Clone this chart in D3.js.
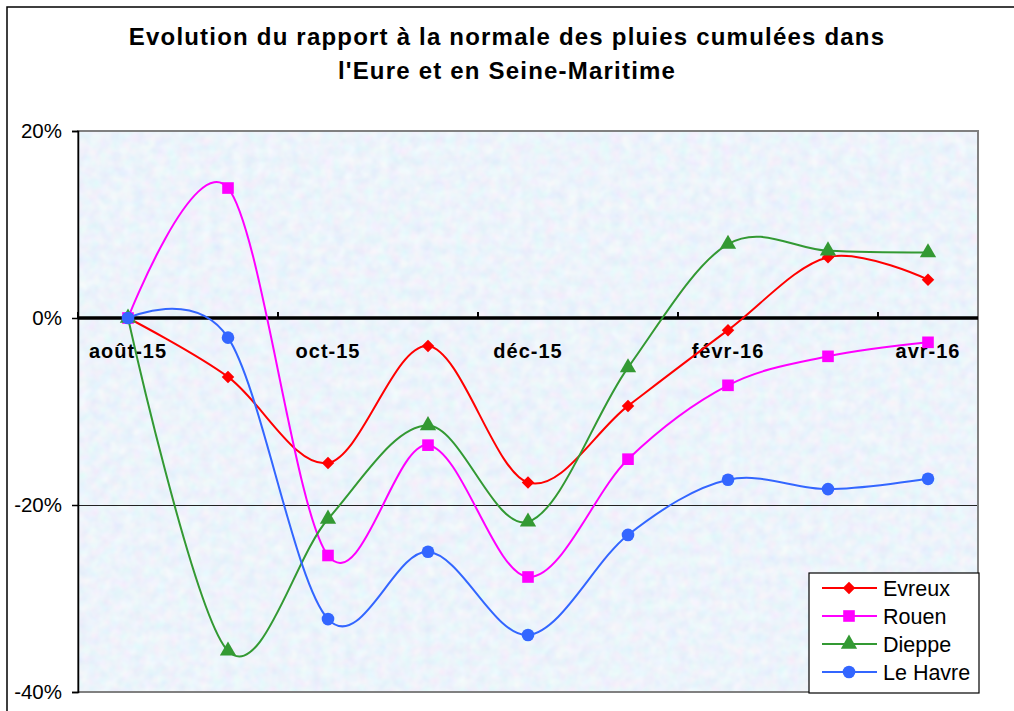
<!DOCTYPE html>
<html><head><meta charset="utf-8">
<script src="https://cdn.jsdelivr.net/npm/d3@7/dist/d3.min.js"></script>
<style>
body{margin:0;background:#fff;}
svg{display:block;font-family:"Liberation Sans",Arial,sans-serif;}
</style></head>
<body>
<svg id="c" width="1014" height="711"></svg>
<script>
const categories = ["août-15","sept-15","oct-15","nov-15","déc-15","janv-16","févr-16","mars-16","avr-16"];
const evreux  = [0, -6.3, -15.5, -3.0, -17.6, -9.4, -1.3, 6.5, 4.1];
const rouen   = [0, 13.9, -25.4, -13.6, -27.7, -15.1, -7.2, -4.1, -2.6];
const dieppe  = [0, -35.6, -21.5, -11.5, -21.8, -5.3, 7.9, 7.2, 7.0];
const lehavre = [0, -2.1, -32.2, -25.0, -33.9, -23.2, -17.3, -18.3, -17.2];
const yTicks = [-40, -20, 0, 20];
const titleLines = ["Evolution du rapport à la normale des pluies cumulées dans", "l'Eure et en Seine-Maritime"];

const series = [
  {name:"Evreux", values:evreux, color:"#ff0000", marker:"diamond"},
  {name:"Rouen", values:rouen, color:"#ff00ff", marker:"square"},
  {name:"Dieppe", values:dieppe, color:"#339933", marker:"triangle"},
  {name:"Le Havre", values:lehavre, color:"#3366ff", marker:"circle"}
];

const svg = d3.select("#c");
const L = 78, R = 978, T = 131, B = 692;

// chart outer border
svg.append("rect").attr("x",7).attr("y",7).attr("width",1030).attr("height",730)
  .attr("fill","#fff").attr("stroke","#000").attr("stroke-width",1.5);

// texture filter
const defs = svg.append("defs");
const f = defs.append("filter").attr("id","tex").attr("x",0).attr("y",0).attr("width","100%").attr("height","100%");
f.append("feTurbulence").attr("type","fractalNoise").attr("baseFrequency","0.09").attr("numOctaves",2).attr("seed",11);
f.append("feColorMatrix").attr("type","matrix")
  .attr("values","0.30 0 0 0 0.72  0 0.22 0 0 0.81  0 0 0.10 0 0.92  0 0 0 0 1");
defs.append("clipPath").attr("id","pc").append("rect").attr("x",L).attr("y",T).attr("width",R-L).attr("height",B-T);

const x = d3.scaleBand().domain(categories).range([L, R]);
const cx = d => x(d) + x.bandwidth()/2;
const y = d3.scaleLinear().domain([-40, 20]).range([B, T]);

// plot background
svg.append("rect").attr("x",L).attr("y",T).attr("width",R-L).attr("height",B-T).attr("fill","#e1ecfa");
svg.append("rect").attr("x",L).attr("y",T).attr("width",R-L).attr("height",B-T).attr("filter","url(#tex)").attr("opacity",0.8);

// gridline
svg.append("g").selectAll("line").data(yTicks.filter(v => v > -40 && v < 20 && v !== 0)).join("line")
  .attr("x1",L).attr("x2",R).attr("y1",d=>Math.round(y(d))+0.5).attr("y2",d=>Math.round(y(d))+0.5)
  .attr("stroke","#222").attr("stroke-width",1);

// plot border
svg.append("rect").attr("x",L).attr("y",T).attr("width",R-L).attr("height",B-T)
  .attr("fill","none").attr("stroke","#808080").attr("stroke-width",2);

// y axis
const yAxis = svg.append("g").attr("transform",`translate(${L},0)`)
  .call(d3.axisLeft(y).tickValues(yTicks).tickSize(6).tickPadding(10).tickFormat(d => d + "%"));
yAxis.select(".domain").attr("stroke","#000").attr("stroke-width",1.5);
yAxis.selectAll(".tick line").attr("stroke","#000").attr("stroke-width",1.5);
yAxis.selectAll("text").attr("font-size",20.5).attr("font-family","Liberation Sans, Arial, sans-serif").attr("fill","#000");

// x axis at 0
const boundaries = categories.filter((c,i) => i % 2 === 0).map(c => x(c));
const xg = svg.append("g");
xg.append("line").attr("x1",L).attr("x2",R).attr("y1",y(0)).attr("y2",y(0)).attr("stroke","#000").attr("stroke-width",3.5);
xg.selectAll("line.tk").data(boundaries).join("line").attr("class","tk")
  .attr("x1",d=>d).attr("x2",d=>d).attr("y1",y(0)).attr("y2",y(0)-6).attr("stroke","#000").attr("stroke-width",2);
xg.selectAll("text").data(categories.filter((c,i)=> i%2===0)).join("text")
  .attr("x",d=>cx(d)).attr("y",y(0)+40).attr("text-anchor","middle")
  .attr("font-size",20).attr("font-weight","bold").attr("letter-spacing","1px").text(d=>d);

// lines
const line = d3.line().x((d,i)=>cx(categories[i])).y(d=>y(d)).curve(d3.curveCatmullRom.alpha(0));
const sym = {
  diamond: d3.symbol().type(d3.symbolDiamond2).size(100),
  square: d3.symbol().type(d3.symbolSquare).size(135),
  triangle: d3.symbol().type(d3.symbolTriangle).size(115),
  circle: d3.symbol().type(d3.symbolCircle).size(125)
};
const plot = svg.append("g").attr("clip-path","url(#pc)");
series.forEach(s => {
  plot.append("path").attr("d", line(s.values)).attr("fill","none").attr("stroke",s.color).attr("stroke-width",2);
});
series.forEach(s => {
  svg.append("g").selectAll("path").data(s.values).join("path")
    .attr("transform",(d,i)=>`translate(${cx(categories[i])},${y(d)})`)
    .attr("d", sym[s.marker]()).attr("fill",s.color);
});

// title
svg.append("g").selectAll("text").data(titleLines).join("text")
  .attr("x",507).attr("y",(d,i)=>45 + i*34).attr("text-anchor","middle")
  .attr("font-size",24).attr("font-weight","bold").attr("letter-spacing","1.2px").text(d=>d);

// legend
const lg = svg.append("g");
lg.append("rect").attr("x",809).attr("y",573).attr("width",170).attr("height",120)
  .attr("fill","#fff").attr("stroke","#000").attr("stroke-width",1.2);
series.forEach((s,k) => {
  const yy = 588 + k*28;
  lg.append("line").attr("x1",822).attr("x2",877).attr("y1",yy).attr("y2",yy).attr("stroke",s.color).attr("stroke-width",2);
  lg.append("path").attr("transform",`translate(849,${yy})`).attr("d",sym[s.marker]()).attr("fill",s.color);
  lg.append("text").attr("x",883).attr("y",yy+7.5).attr("font-size",21.5).text(s.name);
});
</script>
</body></html>
